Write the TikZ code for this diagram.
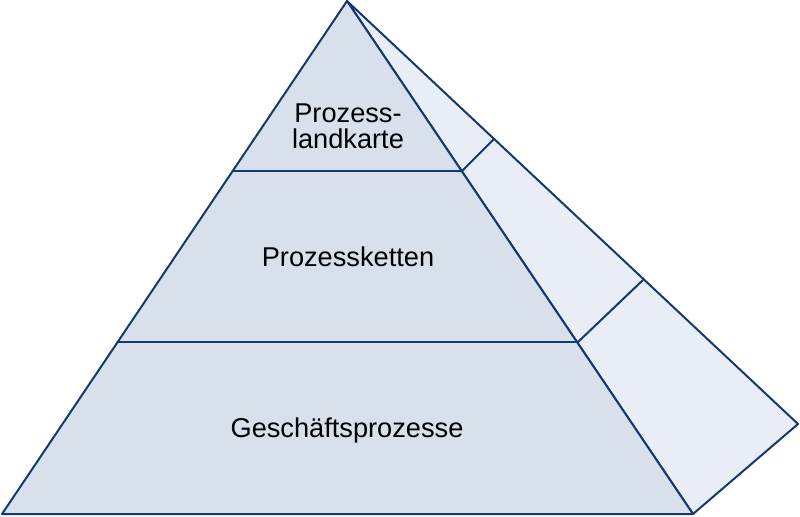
\documentclass[tikz,border=0pt]{standalone}
\usepackage{fontspec}
\setmainfont{Liberation Sans}
\begin{document}
\begin{tikzpicture}[x=0.75pt, y=-0.75pt, font=\fontsize{20.4}{19.5}\selectfont,
    flaeche/.style={draw=kante, line width=1.5pt, line join=round},
    stufe/.style={draw=kante, line width=1.5pt, line cap=round},
    beschriftung/.style={align=center, text=black, inner sep=0pt},
  ]
  \definecolor{kante}{RGB}{22,56,110}
  \definecolor{vorne}{RGB}{216,224,236}
  \definecolor{seite}{RGB}{233,238,246}
  \useasboundingbox (0,0) rectangle (800,517);

  % Seitenfläche mit Stufenkanten
  \draw[flaeche, fill=seite] (347,1) -- (798,424) -- (693,514) -- cycle;
  \draw[stufe] (462,171) -- (494,139) (578,342) -- (643,280);

  % Vorderfläche mit drei Ebenen
  \draw[flaeche, fill=vorne] (347,1) -- (693,514) -- (2,514) -- cycle;
  \draw[stufe] (233,171) -- (462,171) (118,342) -- (578,342);

  \node[beschriftung] (landkarte) at (348,126) {Prozess-\\landkarte};
  \node[beschriftung] (ketten) at (348,257) {Prozessketten};
  \node[beschriftung] (geschaeft) at (347,430) {Geschäftsprozesse};
\end{tikzpicture}
\end{document}
